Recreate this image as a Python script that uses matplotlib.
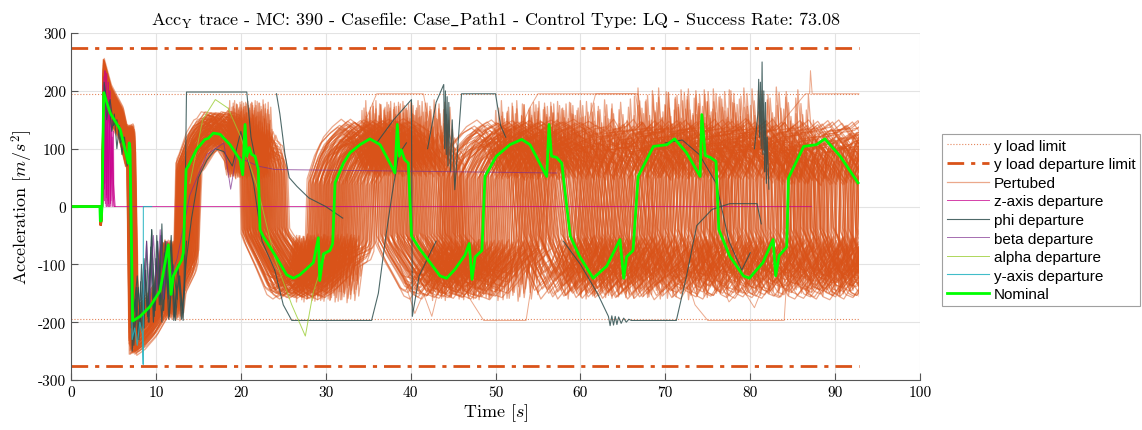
import matplotlib
matplotlib.use("Agg")
import matplotlib.pyplot as plt
from matplotlib.patches import Rectangle
import numpy as np

plt.rcParams['mathtext.fontset'] = 'cm'
plt.rcParams['axes.unicode_minus'] = False

# nominal trace
nom_t = [0, 3.40, 3.45, 3.55, 3.65, 3.85, 4.6, 5.8, 6.75, 6.85, 6.95, 7.26, 8.13, 9.3, 10.48,
         11.46, 11.78, 12.05, 13.04, 13.23, 13.55, 13.82, 14.8, 15.78, 16.17, 16.76, 17.55,
         18.73, 19.9, 20.22, 20.5, 20.69, 21.0, 21.28, 21.67, 22.06, 22.26, 22.65, 24.03,
         25.4, 26.2, 26.97, 28.54, 29.13, 29.3, 29.72, 30.5, 30.82, 31.1, 32.08, 32.86,
         34.04, 35.2, 36.4, 37.96, 38.15, 38.43, 38.67, 38.9, 39.3, 39.73, 40.1, 41.1, 42.3,
         43.46, 44.25, 45.2, 46.4, 46.9, 47.23, 47.6, 48.4, 48.76, 50.1, 51.7, 53.08, 54.06,
         56.03, 56.3, 56.6, 57.2, 57.8, 58.8, 59.9, 61.5, 63.1, 64.66, 65.1, 65.45, 66.2,
         66.8, 68.6, 70.2, 71.1, 72.5, 74.1, 74.3, 74.7, 75.3, 75.97, 76.3, 77.6, 79.2, 79.9,
         81.5, 82.7, 83.0, 83.4, 84.3, 84.5, 86.3, 87.8, 88.8, 90.6, 92.7]
nom_v = [0, 0, -25, -25, 0, 197, 162, 133, 75, 110, 100, -198, -190, -173, -146,
         -66, -152, -120, -92, -80, 64, 70, 99, 116, 118, 127, 125,
         107, 81, 55, 142, 87, 102, 90, 87, 64, -40, -52, -84,
         -118, -124, -118, -97, -54, -128, -82, -76, -64, 41, 75, 93,
         107, 117, 107, 64, 58, 142, 87, 98, 81, 75, -51, -74, -97,
         -120, -124, -109, -84, -64, -126, -87, -76, 52, 87, 107, 116, 107,
         52, 142, 87, 85, 75, -51, -86, -124, -103, -57, -124, -87, -76,
         52, 104, 107, 117, 93, 52, 159, 88, 85, 78, -40, -86, -120, -124,
         -97, -57, -120, -85, -70, 49, 104, 107, 117, 87, 41]

# perturbed runs: time stretch of each run, combined with a few gains
pert_stretch = [0.852, 0.858, 0.865, 0.871, 0.877, 0.883, 0.889, 0.895, 0.901, 0.907,
                0.912, 0.918, 0.923, 0.929, 0.934, 0.939, 0.944, 0.949, 0.954, 0.959,
                0.963, 0.968, 0.973, 0.977, 0.982, 0.987, 0.991, 0.996, 1.001, 1.005,
                1.010, 1.015, 1.020, 1.025, 1.030, 1.035, 1.040, 1.046, 1.051, 1.057,
                1.063, 1.069, 1.075, 1.081, 1.088, 1.095, 1.102, 1.110, 1.118, 1.126]
pert_gain_a = [1.05, 0.92, 1.18, 0.98, 1.25, 0.88, 1.10, 1.02, 1.22, 0.95,
               1.15, 0.90, 1.28, 1.00, 1.08, 1.20, 0.93, 1.12, 1.26, 0.97,
               1.04, 1.17, 0.89, 1.23, 1.06, 0.99, 1.14, 1.27, 0.94, 1.09,
               1.21, 1.01, 0.91, 1.16, 1.24, 0.96, 1.11, 1.19, 0.87, 1.07,
               1.25, 1.03, 0.95, 1.13, 1.22, 0.99, 1.16, 0.92, 1.10, 1.20]
pert_gain_b = [0.94, 1.21, 1.00, 1.27, 0.90, 1.13, 1.06, 1.24, 0.97, 1.18,
               0.89, 1.26, 1.03, 1.15, 0.92, 1.09, 1.29, 0.98, 1.11, 1.23,
               0.95, 1.07, 1.25, 0.91, 1.19, 1.02, 1.28, 0.96, 1.14, 1.22,
               0.88, 1.12, 1.26, 0.99, 1.05, 1.20, 0.93, 1.27, 1.08, 1.17,
               0.90, 1.24, 1.10, 0.97, 1.29, 1.04, 0.94, 1.21, 1.01, 1.15]
pert_gain_c = [1.12, 1.01, 0.93, 1.19, 1.07, 1.30, 0.96, 1.16, 1.04, 1.26,
               0.99, 1.10, 1.23, 0.91, 1.17, 1.02, 1.13, 1.27, 0.95, 1.08,
               1.20, 0.90, 1.14, 1.03, 1.25, 0.97, 1.09, 1.22, 1.00, 1.18,
               0.94, 1.28, 1.06, 1.15, 0.92, 1.21, 1.05, 0.98, 1.24, 1.11,
               0.96, 1.19, 1.02, 1.26, 0.93, 1.14, 1.07, 1.29, 0.99, 1.17]
pert_shift = [0.0, 0.9, -0.7]
stretch_t0 = 3.4
cycle = 17.9

# saturated perturbed runs
sat_runs = [
    ([33.0, 35.0, 36.0, 41.5, 42.5, 44.0, 45.5], [90, 160, 195, 195, 120, -40, -110]),
    ([59.5, 61.0, 61.8, 66.5, 67.5, 69.0], [70, 150, 195, 195, 90, -60]),
    ([45.0, 47.0, 48.6, 53.6, 54.5, 56.0], [-90, -160, -197, -197, -110, 30]),
    ([52.0, 54.0, 55.0, 66.8, 67.5, 68.5], [100, 170, 195, 195, 110, 20]),
    ([82.0, 84.0, 86.5, 87.0, 87.1, 87.3, 92.8], [60, 150, 195, 195, 235, 195, 195]),
    ([72.0, 73.5, 75.0, 84.0, 84.2, 85.0], [-100, -170, -197, -197, -150, -60]),
    ([75.0, 76.5, 77.5, 79.0, 80.5, 82.0], [-60, -130, -165, -140, -175, -120]),
    ([38.0, 39.5, 40.5, 41.5, 42.5, 43.5], [-60, -140, -185, -150, -190, -130]),
]

# departure runs
z_runs = [
    ([3.6, 3.75, 3.8, 3.85, 3.9, 3.95, 4.0, 4.05, 4.1, 4.15, 4.2, 4.25, 4.3, 4.35, 4.4,
      4.45, 4.5, 4.55, 4.6, 4.7, 4.8, 4.9, 5.0, 5.05, 87.2],
     [0, 0, 210, 20, 225, 10, 235, 5, 200, 0, 230, 10, 190, 0, 215, 0, 170, 0, 200, 0,
      150, 0, 130, 0, 0]),
    ([3.7, 3.85, 3.95, 4.05, 4.15, 4.25, 4.35, 4.5, 4.65, 4.8, 4.95, 5.1],
     [0, 180, 30, 205, 15, 185, 10, 160, 5, 140, 20, 0]),
    ([3.75, 3.88, 3.98, 4.08, 4.18, 4.28, 4.4, 4.55, 4.7, 4.85, 5.0, 5.2],
     [0, 150, 40, 190, 20, 170, 5, 200, 10, 120, 40, 0]),
]
phi_runs = [
    ([3.7, 3.9, 4.3, 4.6, 5.0, 5.4, 5.8, 6.2, 6.6, 6.9, 7.1, 7.4, 7.8, 8.2, 8.6, 9.0,
      9.4, 9.8, 10.2, 10.6, 11.0, 11.4, 11.8, 12.2, 12.6, 13.0, 13.3, 13.6, 20.7, 21.2, 22.0],
     [0, 215, 170, 185, 140, 150, 110, 120, 80, 95, -210, -180, -120, -200, -90, -190,
      -70, -180, -60, -170, -80, -150, -50, -190, -100, -195, -150, 198, 198, 120, 60]),
    ([7.0, 7.4, 7.9, 8.3, 8.7, 9.1, 9.5, 9.9, 10.3, 10.7, 11.1, 11.5, 11.9, 12.3, 12.7,
      13.1, 13.6, 14.2, 15.0, 16.0, 17.0, 18.0, 19.0, 20.0, 21.5, 22.5, 24.0],
     [90, -240, -140, -215, -110, -200, -40, -180, -90, -200, -60, -195, -110, -197,
      -120, -180, -90, -20, 50, 80, 100, 95, 70, 130, 40, -60, -110]),
    ([4.0, 4.2, 4.5, 4.8, 5.1, 5.4, 5.7, 6.0, 6.3, 6.6, 6.9, 7.2, 7.5, 7.7, 8.0, 8.3,
      8.6, 8.9, 9.2, 9.5, 9.8, 10.1, 10.4, 10.7, 11.0, 11.3, 11.6, 12.0, 12.5],
     [200, 150, 180, 130, 160, 100, 140, 90, 120, 70, 100, -250, -200, -140, -230,
      -100, -210, -60, -200, -40, -190, -50, -170, -30, -160, -70, -190, -100, -160]),
    ([7.3, 7.6, 7.9, 8.2, 8.5, 8.8, 9.1, 9.4, 9.7, 10.0, 10.3, 10.6, 10.9, 11.2,
      11.5, 11.8, 12.1, 12.4, 12.8, 13.2, 13.6],
     [-190, -160, -230, -130, -210, -110, -190, -80, -200, -90, -150, -50, -180,
      -100, -160, -70, -197, -150, -120, -197, -60]),
    ([24.2, 24.6, 25.2, 25.7, 26.6, 28.0, 30.0, 32.0],
     [195, 160, 90, 50, 35, 15, 0, -20]),
    ([24.0, 25.0, 26.0, 35.4, 36.2, 37.0, 37.8, 38.6, 39.5],
     [-110, -170, -197, -197, -150, -60, 20, 90, 110]),
    ([42.0, 43.0, 43.9, 44.0, 44.1, 44.2, 44.3, 44.4, 44.5, 44.7, 44.9, 45.2, 46.0,
      50.0, 50.6, 51.2],
     [100, 180, 211, 100, 200, 90, 190, 70, 180, 60, 150, 29, 195, 195, 140, 120]),
    ([58.0, 60.0, 62.0, 63.3, 63.5, 63.7, 63.9, 64.1, 64.3, 64.5, 64.8, 65.1, 65.4,
      65.7, 66.0, 71.3, 72.5, 73.7, 75.5, 77.6, 80.8, 81.3],
     [-60, -100, -150, -190, -206, -189, -205, -190, -204, -191, -202, -193, -200,
      -195, -197, -197, -120, -33, -5, 5, 5, -30]),
    ([80.5, 80.9, 81.0, 81.1, 81.2, 81.3, 81.4, 81.5, 81.6, 81.7, 81.8, 81.9, 82.0, 82.2],
     [100, 160, 220, 120, 215, 100, 250, 90, 200, 60, 180, 40, 120, 30]),
    ([36.0, 38.0, 40.1, 40.2, 41.0, 43.0], [110, 150, 185, -190, -120, -60]),
    ([70.0, 72.0, 74.0, 76.0, 77.5, 79.0, 80.0], [110, 115, 90, 40, -60, -110, -80]),
]
beta_runs = [
    ([8.5, 8.9, 9.3, 9.7, 10.1, 10.5, 10.9, 11.3, 11.8, 12.5, 14.0, 16.0, 18.0, 18.8,
      19.5, 20.5, 22.0, 24.0, 57.2],
     [-160, -60, -170, -50, -150, -40, -160, -60, -120, -90, 20, 90, 110, 30, 90, 80,
      70, 64, 58]),
]
alpha_runs = [
    ([14.0, 15.5, 17.0, 18.5, 20.0, 22.0, 24.0, 26.0, 27.6, 28.5, 30.0],
     [40, 150, 185, 170, 120, 30, -90, -170, -224, -150, -80]),
]
yaxis_runs = [
    ([6.9, 7.2, 7.5, 7.8, 8.1, 8.4, 8.5, 8.52, 9.5],
     [100, -230, -210, -240, -200, -220, -273, 0, 0]),
]

load_limit = 195
departure_limit = 275
t_end = 92.8

orange = '#D95319'
fig = plt.figure(figsize=(11.42, 4.31), dpi=100)
ax = fig.add_axes([0.0622, 0.116, 0.7434, 0.805])
clip = Rectangle((0, -300), t_end, 600, transform=ax.transData)

ax.plot([0, t_end], [load_limit, load_limit], color=orange, lw=0.8, ls=':', alpha=0.7,
        label='y load limit')
ax.plot([0, t_end], [-load_limit, -load_limit], color=orange, lw=0.8, ls=':', alpha=0.7)
ax.plot([0, t_end], [departure_limit, departure_limit], color=orange, lw=2,
        ls=(0, (6, 2.5, 1.5, 2.5)), dash_capstyle='butt', label='y load departure limit')
ax.plot([0, t_end], [-departure_limit, -departure_limit], color=orange, lw=2,
        ls=(0, (6, 2.5, 1.5, 2.5)), dash_capstyle='butt')

nt = np.array(nom_t)
nv = np.array(nom_v)
wrap = nt > (nom_t[-1] - cycle)
first = True
for sh, gains in zip(pert_shift, [pert_gain_a, pert_gain_b, pert_gain_c]):
    for s, g in zip(pert_stretch, gains):
        x = np.concatenate([nt, nt[wrap] + cycle])
        y = np.concatenate([nv, nv[wrap]]) * g
        x = stretch_t0 + (x - stretch_t0) / s
        x[x > 4] += sh * (x[x > 4] - 4) / 90
        ln, = ax.plot(x, y, color=orange, lw=0.9, alpha=0.5,
                      label='Pertubed' if first else None)
        ln.set_clip_path(clip)
        first = False
for tt, vv in sat_runs:
    ax.plot(tt, vv, color=orange, lw=0.7, alpha=0.5)

for i, (tt, vv) in enumerate(z_runs):
    ax.plot(tt, vv, color='#C8008C', lw=0.7, alpha=0.75,
            label='z-axis departure' if i == 0 else None)
for i, (tt, vv) in enumerate(phi_runs):
    ax.plot(tt, vv, color='#2F4F4F', lw=0.8, alpha=0.85,
            label='phi departure' if i == 0 else None)
for i, (tt, vv) in enumerate(beta_runs):
    ax.plot(tt, vv, color='#7E2F8E', lw=0.7, alpha=0.7,
            label='beta departure' if i == 0 else None)
for i, (tt, vv) in enumerate(alpha_runs):
    ax.plot(tt, vv, color='#9ACD32', lw=0.7, alpha=0.8,
            label='alpha departure' if i == 0 else None)
for i, (tt, vv) in enumerate(yaxis_runs):
    ax.plot(tt, vv, color='#20B2C0', lw=0.8, alpha=0.85,
            label='y-axis departure' if i == 0 else None)

ax.plot(nom_t, nom_v, color='#00FF00', lw=2, label='Nominal')

ax.set_xlim(0, 100)
ax.set_ylim(-300, 300)
ax.set_xticks(np.arange(0, 101, 10))
ax.set_yticks(np.arange(-300, 301, 100))
ax.grid(True, color='#E3E3E3', lw=0.8)
ax.set_axisbelow(True)
for sp in ['top', 'right']:
    ax.spines[sp].set_visible(False)
for sp in ['left', 'bottom']:
    ax.spines[sp].set_color('#555555')
    ax.spines[sp].set_linewidth(0.8)
ax.tick_params(direction='in', length=5, color='#555555', labelsize=11)
for lab in ax.get_xticklabels() + ax.get_yticklabels():
    lab.set_fontfamily('cmr10')

ax.set_title(r'Acc$_{\mathrm{Y}}$ trace - MC: 390 - Casefile: Case$\_$Path1 - Control Type: LQ'
             r' - Success Rate: 73.08', fontfamily='cmr10', fontsize=13, pad=6)
ax.set_xlabel(r'Time $[s]$', fontfamily='cmr10', fontsize=13, labelpad=2)
ax.set_ylabel(r'Acceleration $[m/s^2]$', fontfamily='cmr10', fontsize=13, labelpad=2)

leg = ax.legend(loc='lower left', bbox_to_anchor=(942 / 1142, 124 / 431),
                bbox_transform=fig.transFigure, prop={'family': 'Liberation Sans', 'size': 11},
                frameon=True, fancybox=False, edgecolor='#A0A0A0', framealpha=1,
                borderpad=0.3, labelspacing=0.3, handlelength=2.8, handletextpad=0.3,
                borderaxespad=0)
leg.get_frame().set_linewidth(0.8)

fig.savefig('out.png', dpi=100)
